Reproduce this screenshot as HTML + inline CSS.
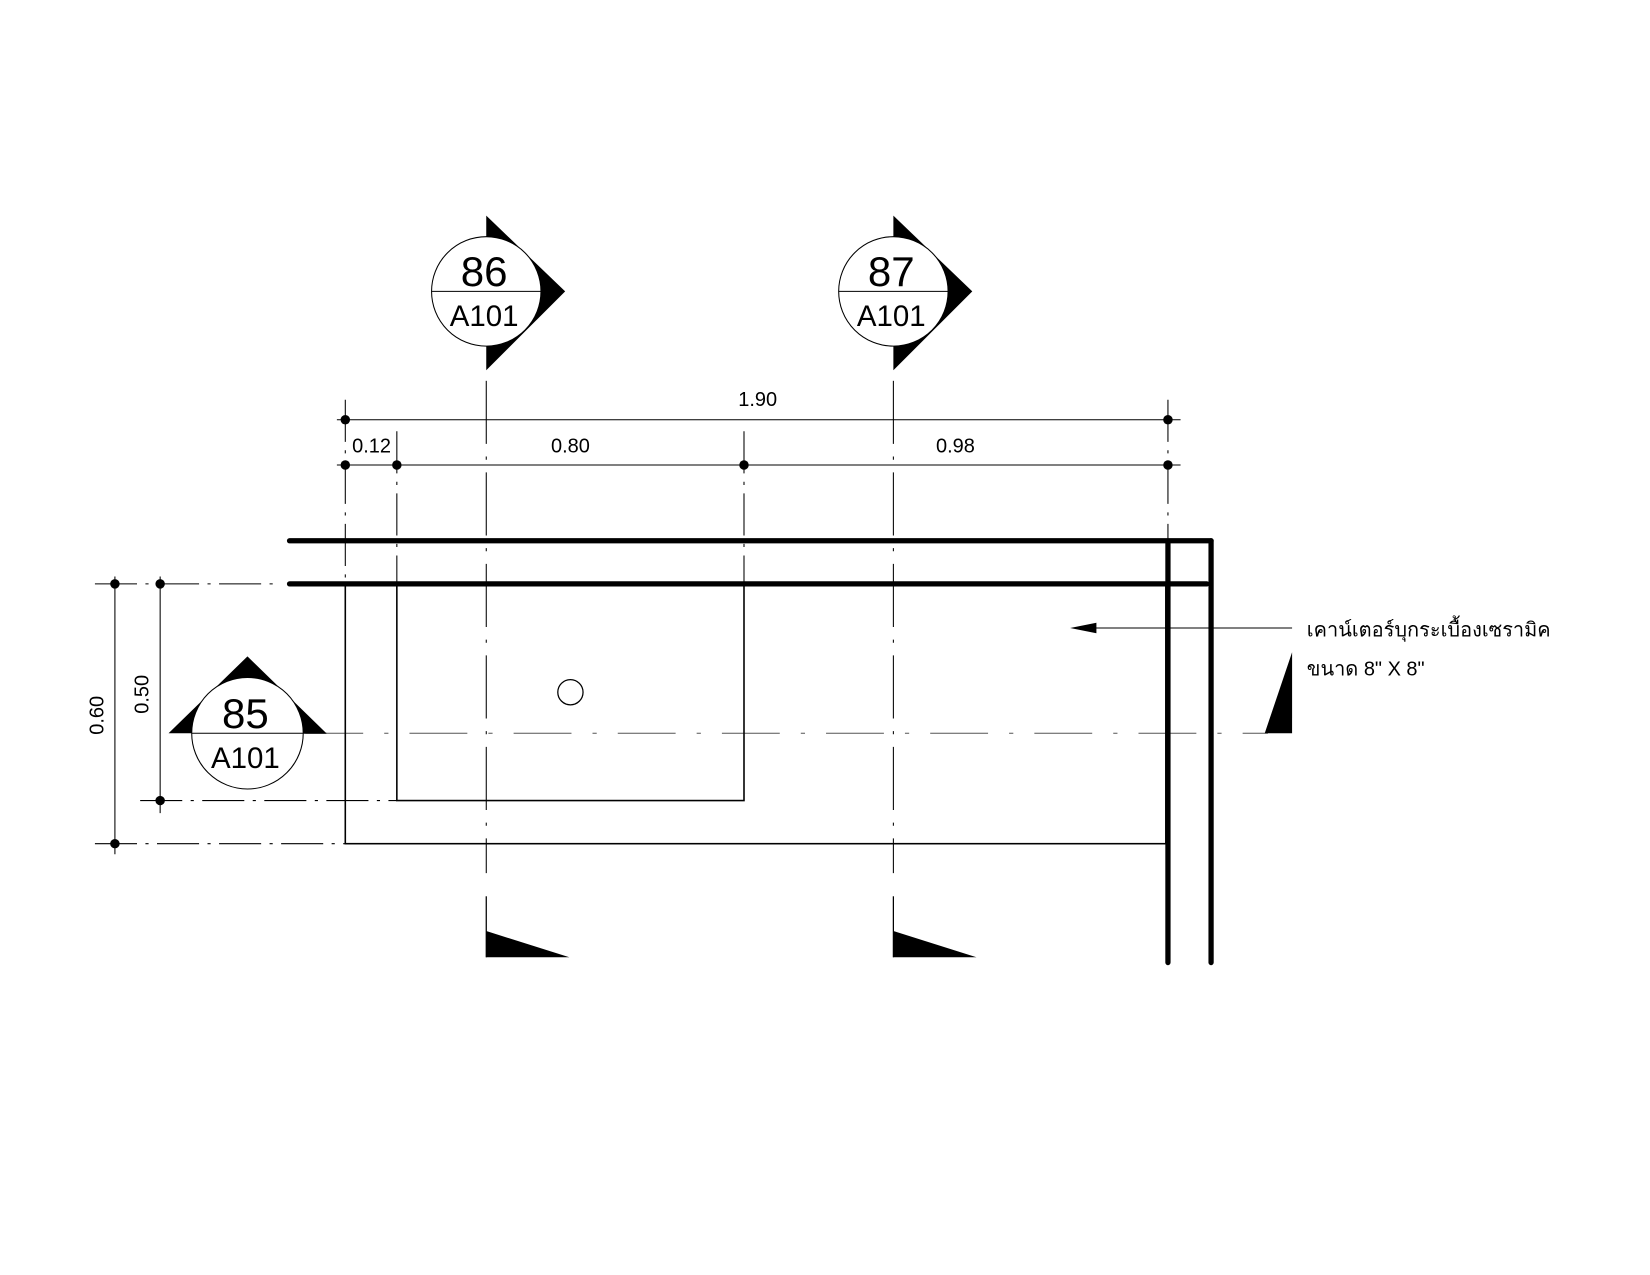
<!DOCTYPE html>
<html><head><meta charset="utf-8"><style>html,body{margin:0;padding:0;background:#fff}svg{display:block}</style></head>
<body>
<svg width="1650" height="1275" viewBox="0 0 1568 1212" xmlns="http://www.w3.org/2000/svg" font-family="Liberation Sans, DejaVu Sans, sans-serif">
<rect width="1568" height="1212" fill="#fff"/>
<g stroke="#000" fill="none">
<line x1="462" y1="362" x2="462" y2="830" stroke-width="1" stroke-dasharray="60,12,3,12"/>
<line x1="849" y1="362" x2="849" y2="830" stroke-width="1" stroke-dasharray="60,12,3,12"/>
<line x1="462" y1="852" x2="462" y2="910" stroke-width="1.2"/>
<line x1="849" y1="852" x2="849" y2="910" stroke-width="1.2"/>
<line x1="290" y1="697" x2="1205" y2="697" stroke-width="1" stroke="#555" stroke-dasharray="55,20,4,20"/>
<line x1="320" y1="399" x2="1122" y2="399" stroke-width="1"/>
<line x1="320" y1="442" x2="1122" y2="442" stroke-width="1"/>
<line x1="328" y1="380" x2="328" y2="560" stroke-width="1" stroke-dasharray="40,8,3,8"/>
<line x1="377" y1="410" x2="377" y2="560" stroke-width="1" stroke-dasharray="40,8,3,8"/>
<line x1="707" y1="410" x2="707" y2="560" stroke-width="1" stroke-dasharray="40,8,3,8"/>
<line x1="1110" y1="380" x2="1110" y2="514" stroke-width="1" stroke-dasharray="40,8,3,8"/>
<line x1="109" y1="548" x2="109" y2="812" stroke-width="1"/>
<line x1="152" y1="548" x2="152" y2="773" stroke-width="1"/>
<line x1="90" y1="555" x2="265" y2="555" stroke-width="1" stroke-dasharray="40,8,3,8"/>
<line x1="133" y1="761" x2="377" y2="761" stroke-width="1" stroke-dasharray="40,8,3,8"/>
<line x1="90" y1="802" x2="328" y2="802" stroke-width="1" stroke-dasharray="40,8,3,8"/>
<rect x="328" y="555" width="780" height="247" stroke-width="1.5"/>
<rect x="377" y="555" width="330" height="206" stroke-width="1.5"/>
<circle cx="542" cy="658" r="12" stroke-width="1.2"/>
<g stroke-width="5" stroke-linecap="round">
<line x1="275" y1="514" x2="1151" y2="514"/>
<line x1="275" y1="555" x2="1147" y2="555"/>
<line x1="1110" y1="516" x2="1110" y2="915"/>
<line x1="1151" y1="514" x2="1151" y2="915"/>
</g>
<line x1="1228" y1="597" x2="1035" y2="597" stroke-width="1"/>
</g>
<polygon points="1017,597 1042,592 1042,602" fill="#000"/>
<polygon points="1202,697 1228,697 1228,620" fill="#000"/>
<polygon points="462,885 462,910 541,910" fill="#000"/>
<polygon points="849,885 849,910 928,910" fill="#000"/>
<g fill="#000">
<circle cx="328" cy="399" r="4.5"/><circle cx="1110" cy="399" r="4.5"/>
<circle cx="328" cy="442" r="4.5"/><circle cx="377" cy="442" r="4.5"/><circle cx="707" cy="442" r="4.5"/><circle cx="1110" cy="442" r="4.5"/>
<circle cx="109" cy="555" r="4.5"/><circle cx="152" cy="555" r="4.5"/><circle cx="152" cy="761" r="4.5"/><circle cx="109" cy="802" r="4.5"/>
</g>
<g>
<polygon points="462,205 537,277 462,352" fill="#000"/>
<circle cx="462" cy="277" r="52" fill="#fff" stroke="#000" stroke-width="1"/>
<line x1="410" y1="277" x2="514" y2="277" stroke="#000"/>
<text x="460" y="272" font-size="40" text-anchor="middle">86</text>
<text x="460" y="310" font-size="28" text-anchor="middle">A101</text>
<polygon points="849,205 924,277 849,352" fill="#000"/>
<circle cx="849" cy="277" r="52" fill="#fff" stroke="#000" stroke-width="1"/>
<line x1="797" y1="277" x2="901" y2="277" stroke="#000"/>
<text x="847" y="272" font-size="40" text-anchor="middle">87</text>
<text x="847" y="310" font-size="28" text-anchor="middle">A101</text>
<polygon points="160,697 235,624 310,697" fill="#000"/>
<circle cx="235" cy="697" r="53" fill="#fff" stroke="#000" stroke-width="1"/>
<line x1="182" y1="697" x2="310" y2="697" stroke="#000"/>
<text x="233" y="692" font-size="40" text-anchor="middle">85</text>
<text x="233" y="730" font-size="28" text-anchor="middle">A101</text>
</g>
<g font-size="19" fill="#000">
<text x="720" y="386" text-anchor="middle">1.90</text>
<text x="353" y="430" text-anchor="middle">0.12</text>
<text x="542" y="430" text-anchor="middle">0.80</text>
<text x="908" y="430" text-anchor="middle">0.98</text>
<text transform="translate(98,680) rotate(-90)" text-anchor="middle">0.60</text>
<text transform="translate(141,660) rotate(-90)" text-anchor="middle">0.50</text>
</g>
<g font-size="19" font-family="Liberation Sans, Noto Sans CJK SC, DejaVu Sans, sans-serif">
<text x="1242" y="605">เคาน์เตอร์บุกระเบื้องเซรามิค</text>
<text x="1242" y="642">ขนาด 8" X 8"</text>
</g>
</svg>
</body></html>
